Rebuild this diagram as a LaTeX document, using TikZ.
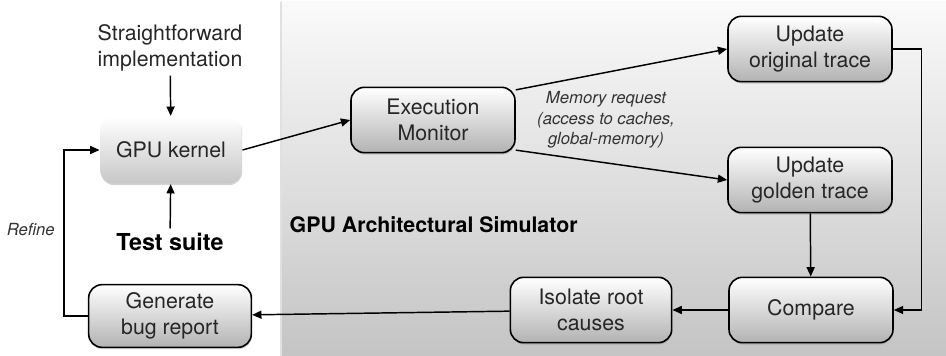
\documentclass[tikz,border=0pt]{standalone}
\usepackage{fontspec}
\setmainfont{TeX Gyre Heros}
\usetikzlibrary{positioning}
\usetikzlibrary{shadows}
\usetikzlibrary{arrows.meta}
\tikzset{
	stepbox/.style={rectangle,rounded corners=10pt,draw=black,line width=1.2pt,top color=white,bottom color=black!30,
		minimum width=123pt,minimum height=49pt,align=center,text=black!85,font=\fontsize{16}{19}\selectfont,
		drop shadow={shadow xshift=0.4pt,shadow yshift=-1.4pt,opacity=0.35}},
	kernelbox/.style={stepbox,draw=none,minimum width=106pt,minimum height=50pt,bottom color=black!22},
	flow/.style={-{Triangle[length=7pt,width=6pt]},line width=1.1pt},
	plain/.style={align=center,text=black!85,font=\fontsize{16}{19}\selectfont},
	note/.style={align=center,text=black!80,font=\fontsize{12.5}{15.5}\selectfont\itshape}
}
\begin{document}
\begin{tikzpicture}[x=0.75pt,y=-0.75pt]
	\useasboundingbox (0,0) rectangle (946,356);
	% simulator panel
	\fill[black!12] (280,2) rectangle (946,356);
	\shade[top color=black!2,bottom color=black!23] (282,2) rectangle (946,356);
	\node[plain,anchor=west,font=\fontsize{16}{19}\selectfont\bfseries,text=black] (sim) at (285,225) {GPU Architectural Simulator};

	\node[kernelbox] (kernel) at (171,150) {GPU kernel};
	\node[plain] (straight) at (170,48) {Straightforward\\implementation};
	\node[plain,font=\fontsize{17.5}{20}\selectfont\bfseries,text=black] (test) at (170,242) {Test suite};
	\node[stepbox,minimum width=122pt,minimum height=47pt] (report) at (170,316) {Generate\\bug report};
	\node[stepbox] (exec) at (433,120) {Execution\\Monitor};
	\node[stepbox] (orig) at (810,49) {Update\\original trace};
	\node[stepbox] (golden) at (810,180) {Update\\golden trace};
	\node[stepbox] (compare) at (811,310) {Compare};
	\node[stepbox,minimum width=121pt] (isolate) at (591,310) {Isolate root\\causes};
	\node[note] (mem) at (606,120) {Memory request\\(access to caches,\\global-memory)};

	\draw[flow] (straight) -- (kernel);
	\draw[flow] (test) -- (kernel);
	\draw[flow] (kernel.east) -- (exec.west);
	\draw[flow] (exec.20) -- (orig.west);
	\draw[flow] (exec.-20) -- (golden.west);
	\draw[flow] (golden) -- (compare);
	\draw[flow,line width=0.9pt] (orig.east) -- ++(29,0) |- (compare.east);
	\draw[flow] (compare) -- (isolate);
	\draw[flow] (isolate) -- (report);
	\draw[flow] (report.west) -- ++(-24,0) |- (kernel.west) node[pos=0.26,left=3pt,note] (refine) {Refine};
\end{tikzpicture}
\end{document}
